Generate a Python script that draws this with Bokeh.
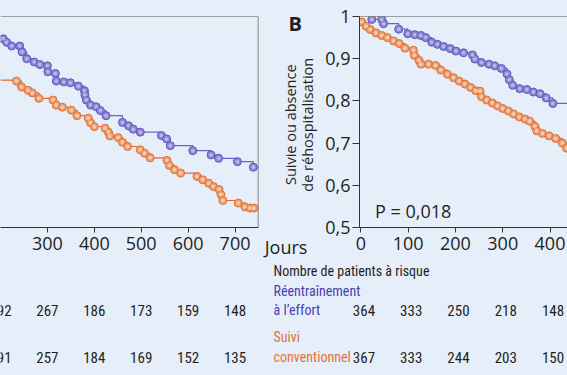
import math
from bokeh.plotting import figure
from bokeh.layouts import row, column
from bokeh.models import (ColumnDataSource, LabelSet, Span, FixedTicker,
                          CustomJSTickFormatter)
from bokeh.core.properties import value
from bokeh.embed import file_html
from bokeh.resources import INLINE

# ---------------- data ----------------
# Panel A (left, cropped): Kaplan-Meier survival
a_blue_days = [206, 213, 224, 241, 246, 256, 272, 284, 300, 301, 317, 319, 335, 349, 366,
               379, 380, 383, 392, 404, 413, 425, 460, 473, 483, 498, 543, 554, 562, 610,
               649, 665, 705, 739]
a_blue_surv = [0.947, 0.939, 0.930, 0.930, 0.916, 0.900, 0.892, 0.886, 0.883, 0.869, 0.865,
               0.847, 0.845, 0.843, 0.835, 0.824, 0.814, 0.802, 0.790, 0.786, 0.777, 0.765,
               0.749, 0.741, 0.733, 0.726, 0.718, 0.710, 0.694, 0.682, 0.672, 0.664, 0.656,
               0.643]
a_orange_days = [234, 245, 259, 268, 282, 312, 319, 332, 351, 363, 387, 392, 400, 423, 430,
                 433, 451, 460, 471, 498, 507, 519, 555, 560, 571, 584, 619, 631, 644, 654,
                 666, 670, 674, 707, 721, 732, 740]
a_orange_surv = [0.847, 0.833, 0.825, 0.819, 0.806, 0.802, 0.790, 0.785, 0.778, 0.765, 0.759,
                 0.748, 0.739, 0.735, 0.726, 0.717, 0.713, 0.702, 0.692, 0.684, 0.676, 0.665,
                 0.659, 0.647, 0.637, 0.629, 0.621, 0.613, 0.605, 0.597, 0.590, 0.578, 0.564,
                 0.558, 0.549, 0.546, 0.546]
a_orange_start = (200, 0.849)

a_ticks = [300, 400, 500, 600, 700]
a_risk_days = [200, 300, 400, 500, 600, 700]
a_risk_blue = ["292", "267", "186", "173", "159", "148"]
a_risk_orange = ["291", "257", "184", "169", "152", "135"]

# Panel B (right, cropped): survival or absence of rehospitalisation
b_blue_days = [23, 44, 48, 80, 99, 114, 127, 137, 150, 162, 175, 189, 201, 217, 236, 241,
               255, 271, 283, 297, 309, 314, 321, 336, 351, 365, 379, 392, 406]
b_blue_surv = [0.993, 0.993, 0.983, 0.970, 0.959, 0.957, 0.955, 0.950, 0.939, 0.934, 0.929,
               0.924, 0.918, 0.914, 0.909, 0.899, 0.891, 0.887, 0.883, 0.877, 0.864, 0.850,
               0.837, 0.829, 0.827, 0.821, 0.817, 0.807, 0.794]
b_orange_days = [2, 11, 20, 32, 44, 56, 69, 81, 93, 111, 113, 123, 127, 143, 158, 169, 183,
                 196, 208, 220, 232, 243, 252, 255, 266, 278, 289, 300, 312, 323, 335, 347,
                 357, 368, 372, 384, 398, 412, 426, 435, 445]
b_orange_surv = [0.987, 0.977, 0.969, 0.961, 0.955, 0.950, 0.942, 0.936, 0.925, 0.920, 0.908,
                 0.896, 0.887, 0.887, 0.884, 0.873, 0.863, 0.855, 0.847, 0.840, 0.832, 0.824,
                 0.823, 0.810, 0.802, 0.795, 0.788, 0.782, 0.776, 0.769, 0.762, 0.757, 0.752,
                 0.740, 0.729, 0.723, 0.717, 0.711, 0.700, 0.688, 0.680]

b_ticks = [0, 100, 200, 300, 400, 500]
b_risk_days = [0, 100, 200, 300, 400]
b_risk_blue = ["364", "333", "250", "218", "148"]
b_risk_orange = ["367", "333", "244", "203", "150"]
y_ticks = [0.5, 0.6, 0.7, 0.8, 0.9, 1.0]

risk_title = "Nombre de patients à risque"
group_blue = ["Réentraînement", "à l’effort"]
group_orange = ["Suivi", "conventionnel"]
y_title = ["Suivie ou absence", "de réhospitalisation"]
x_unit = "Jours"
panel_letter = "B"
p_value = "P = 0,018"

# ---------------- style ----------------
BG = "#e6eef9"
BLUE_FILL, BLUE_LINE, BLUE_HI, BLUE_STEP = "#8d88d6", "#5f57b8", "#bcb8ee", "#6464cc"
OR_FILL, OR_LINE, OR_HI, OR_STEP = "#f0a06e", "#d9703c", "#fbcdb0", "#e4673a"
BLUE_TXT, OR_TXT = "#4a40b0", "#e2713a"
TXT = "#231f20"
FONT = "Open Sans"
NARROW = "Roboto Condensed, Noto Sans Condensed, DejaVu Sans Condensed, Liberation Sans"
ROW_BLUE_Y, ROW_OR_Y = 0.304, 0.193
Y0, Y1 = 0.5, 1.0
TOP_H, BOT_H = 262, 113
PXU = 0.4725  # px per day
PXY = 423     # px per unit of y
Y_SPLIT = 1 - (TOP_H - 15.5) / PXY
Y_BOTTOM = 1 - (TOP_H + BOT_H - 15.5) / PXY


def base(p):
    p.background_fill_color = BG
    p.border_fill_color = BG
    p.outline_line_color = None
    p.grid.visible = False


def style(p):
    base(p)
    for ax in p.axis:
        ax.axis_line_color = "#333333"
        ax.major_tick_line_color = "#333333"
        ax.minor_tick_line_color = None
        ax.major_tick_in = 0
        ax.major_tick_out = 5
        ax.major_label_text_font = FONT
        ax.major_label_text_font_size = "18px"
        ax.major_label_text_color = TXT
        ax.major_label_standoff = 4


def curves(p, xb, yb, xo, yo, xend, ostart=None):
    lx = list(xb) + [xend]
    ly = list(yb) + [yb[-1]]
    p.step(lx, ly, mode="after", line_color=BLUE_STEP, line_width=1.2)
    ox = ([ostart[0]] if ostart else []) + list(xo)
    oy = ([ostart[1]] if ostart else []) + list(yo)
    p.step(ox, oy, mode="after", line_color=OR_STEP, line_width=1.2)
    p.scatter(xo, yo, size=8, fill_color=OR_FILL, line_color=OR_LINE, line_width=1)
    p.scatter(xo, yo, size=3.5, fill_color=OR_HI, line_color=None)
    p.scatter(xb, yb, size=8, fill_color=BLUE_FILL, line_color=BLUE_LINE, line_width=1)
    p.scatter(xb, yb, size=3.5, fill_color=BLUE_HI, line_color=None)


def plain(width, height, xr, yr, xaxis=None):
    p = figure(width=width, height=height, x_range=xr, y_range=yr, x_axis_location=xaxis,
               y_axis_location=None, output_backend="svg", toolbar_location=None,
               min_border=0, min_border_left=0, min_border_right=0, min_border_top=0,
               min_border_bottom=0)
    base(p)
    return p


def txt(p, x, y, texts, color=TXT, size="14px", font=NARROW, align="left", style="normal",
        angle=0.0):
    p.text(x=x, y=y, text=texts, text_color=color, text_font=value(font),
           text_font_size=value(size), text_align=align, text_baseline="middle",
           text_font_style=style, angle=angle)


# ---------------- panel A ----------------
A_X0, A_X1 = 200, 750
pa = figure(width=262, height=TOP_H, x_range=(A_X0, A_X1), y_range=(Y0, Y1),
            y_axis_location=None, output_backend="svg", toolbar_location=None,
            min_border_left=0, min_border_right=4, min_border_top=16, min_border_bottom=35)
style(pa)
pa.xaxis.ticker = FixedTicker(ticks=a_ticks)
curves(pa, a_blue_days, a_blue_surv, a_orange_days, a_orange_surv, A_X1, a_orange_start)
pa.add_layout(Span(location=Y1, dimension="width", line_color="#555555", line_width=1))
pa.add_layout(Span(location=A_X1, dimension="height", line_color="#666666", line_width=1.5))

# ---------------- panel B ----------------
B_X0, B_X1 = -3, 437
pb = figure(width=249, height=TOP_H, x_range=(B_X0, B_X1), y_range=(Y0, Y1),
            output_backend="svg", toolbar_location=None,
            min_border_left=41, min_border_right=0, min_border_top=16, min_border_bottom=35)
style(pb)
pb.xaxis.ticker = FixedTicker(ticks=b_ticks)
pb.yaxis.ticker = FixedTicker(ticks=y_ticks)
pb.yaxis.major_tick_out = 7
pb.yaxis.major_label_standoff = 2
pb.yaxis.formatter = CustomJSTickFormatter(
    code="return Math.abs(tick - 1) < 1e-9 ? '1' : tick.toFixed(1).replace('.', ',');")
curves(pb, b_blue_days, b_blue_surv, b_orange_days, b_orange_surv, B_X1)
pb.add_layout(Span(location=Y1, dimension="width", line_color="#555555", line_width=1))
txt(pb, [30], [0.540], [p_value], size="18px", font=FONT)

# ---------------- gutter between A and B (panel letter, y title, "Jours") ----------------
G_X0 = B_X0 - (359 - 262) / PXU
G_X1 = B_X0 - 41 / PXU
JOURS_X = -168
pg = plain(56, TOP_H, (G_X0, G_X1), (Y0, Y1), xaxis="below")
pg.xaxis.ticker = FixedTicker(ticks=[JOURS_X])
pg.xaxis.major_label_overrides = {JOURS_X: x_unit}
pg.xaxis.axis_line_color = None
pg.xaxis.major_tick_line_color = None
pg.xaxis.minor_tick_line_color = None
pg.xaxis.major_tick_in = 0
pg.xaxis.major_tick_out = 0
pg.xaxis.major_label_standoff = 7
pg.xaxis.major_label_text_font = FONT
pg.xaxis.major_label_text_font_size = "18px"
pg.xaxis.major_label_text_color = TXT
txt(pg, [-139], [0.984], [panel_letter], size="20px", font=FONT, align="center", style="bold")
txt(pg, [-150, -112], [0.7435, 0.7435], y_title, size="14.5px", font=FONT, align="center",
    angle=math.pi / 2)

# ---------------- numbers at risk ----------------
ta = plain(262, BOT_H, (A_X0, A_X0 + 262 * (A_X1 - A_X0) / 258), (Y_BOTTOM, Y_SPLIT))
src_a = ColumnDataSource(dict(x=a_risk_days + a_risk_days,
                              y=[ROW_BLUE_Y] * len(a_risk_days) + [ROW_OR_Y] * len(a_risk_days),
                              t=a_risk_blue + a_risk_orange))
ta.add_layout(LabelSet(x="x", y="y", text="t", source=src_a, text_align="center",
                       text_baseline="middle", text_font=value(NARROW),
                       text_font_size=value("15px"), text_color=TXT))

tb = plain(305, BOT_H, (G_X0, B_X1), (Y_BOTTOM, Y_SPLIT))
src_b = ColumnDataSource(dict(x=b_risk_days + b_risk_days,
                              y=[ROW_BLUE_Y] * len(b_risk_days) + [ROW_OR_Y] * len(b_risk_days),
                              t=b_risk_blue + b_risk_orange))
tb.add_layout(LabelSet(x="x", y="y", text="t", source=src_b, text_align="center",
                       text_baseline="middle", text_font=value(NARROW),
                       text_font_size=value("15px"), text_color=TXT, x_offset=3))
LX = G_X0 + 11 / PXU
txt(tb, [LX], [0.398], [risk_title])
txt(tb, [LX, LX], [0.351, 0.304], group_blue, color=BLUE_TXT)
txt(tb, [LX, LX], [0.240, 0.193], group_orange, color=OR_TXT)

layout = column(row(pa, pg, pb, spacing=0, styles={"background-color": BG}),
                row(ta, tb, spacing=0, styles={"background-color": BG}),
                spacing=0, styles={"background-color": BG})
open("out.html", "w").write(file_html(layout, INLINE))
